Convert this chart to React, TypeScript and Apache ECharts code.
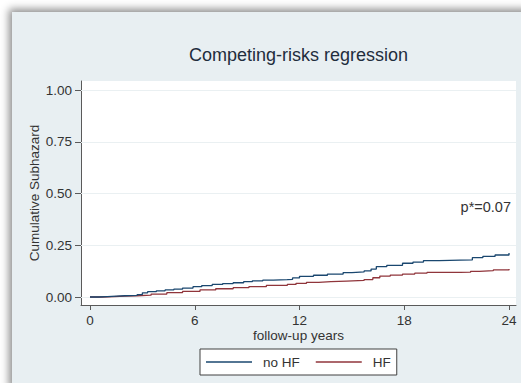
import React, { useEffect, useRef } from "react";
import * as echarts from "echarts";

const titleText = "Competing-risks regression";
const yAxisName = "Cumulative Subhazard";
const xAxisName = "follow-up years";
const pText = "p*=0.07";
const xTicks = [0, 6, 12, 18, 24];
const yTicks = [0, 0.25, 0.5, 0.75, 1];
const seriesNames = ["no HF", "HF"];

const noHFTimes = [0, 0.5, 1, 1.5, 2, 2.7, 3.0, 3.3, 3.8, 4.3, 4.8, 5.3, 5.9, 6.4, 7.0, 7.6, 8.2, 8.8, 9.3, 9.9, 10.5, 11.3, 11.6, 12.0, 12.8, 13.6, 14.5, 15.0, 15.7, 16.1, 16.4, 17.0, 17.9, 18.5, 19.1, 20.0, 21.2, 21.9, 22.5, 23.2, 24];
const noHFValues = [0, 0.002, 0.004, 0.006, 0.008, 0.012, 0.02, 0.026, 0.03, 0.034, 0.038, 0.043, 0.05, 0.055, 0.061, 0.065, 0.069, 0.074, 0.078, 0.082, 0.084, 0.085, 0.092, 0.1, 0.105, 0.111, 0.118, 0.121, 0.126, 0.135, 0.147, 0.153, 0.163, 0.169, 0.176, 0.178, 0.179, 0.19, 0.196, 0.203, 0.213];

const hfTimes = [0, 0.7, 1.4, 2.0, 2.7, 3.5, 4.4, 5.3, 6.3, 7.2, 8.2, 9.1, 10.1, 11.3, 11.8, 12.4, 13.1, 13.8, 14.7, 15.7, 16.2, 16.6, 17.2, 17.9, 18.6, 19.3, 20.2, 21.2, 21.8, 22.3, 23.1, 24];
const hfValues = [0, 0.002, 0.004, 0.006, 0.009, 0.014, 0.021, 0.027, 0.034, 0.04, 0.045, 0.05, 0.056, 0.061, 0.066, 0.071, 0.074, 0.077, 0.08, 0.084, 0.093, 0.101, 0.106, 0.111, 0.115, 0.119, 0.119, 0.12, 0.124, 0.127, 0.131, 0.135];

const FONT = "'Liberation Sans', Arial, sans-serif";

export default function App() {
  const ref = useRef<HTMLDivElement>(null);
  useEffect(() => {
    if (!ref.current) return;
    const chart = echarts.init(ref.current, null, { renderer: "svg" });
    const zip = (t: number[], v: number[]) => t.map((x, i) => [x, v[i]]);
    chart.setOption({
      animation: false,
      backgroundColor: "transparent",
      textStyle: { fontFamily: FONT },
      grid: { left: 81, top: 81, width: 435, height: 224, show: true, backgroundColor: "#ffffff", borderWidth: 0 },
      xAxis: {
        type: "value",
        min: -0.5155,
        max: 24.4,
        name: xAxisName,
        nameLocation: "middle",
        nameGap: 23,
        nameMoveOverlap: false,
        nameTextStyle: { fontSize: 13.5, color: "#333", fontFamily: FONT },
        axisLine: { show: true, onZero: false, lineStyle: { color: "#5a5a5a", width: 1 } },
        axisTick: { show: true, length: 5, customValues: xTicks, lineStyle: { color: "#5a5a5a" } },
        axisLabel: { customValues: xTicks, margin: 8, fontSize: 13.5, color: "#333", fontFamily: FONT },
        splitLine: { show: false },
      },
      yAxis: {
        type: "value",
        min: -0.0386,
        max: 1.0435,
        name: yAxisName,
        nameLocation: "middle",
        nameGap: 40,
        nameMoveOverlap: false,
        nameTextStyle: { fontSize: 13.5, color: "#333", fontFamily: FONT },
        axisLine: { show: true, onZero: false, lineStyle: { color: "#5a5a5a", width: 1 } },
        axisTick: { show: true, length: 6, customValues: yTicks, lineStyle: { color: "#5a5a5a" } },
        axisLabel: {
          customValues: yTicks,
          margin: 9,
          fontSize: 13.5,
          color: "#333",
          fontFamily: FONT,
          formatter: (v: number) => v.toFixed(2),
        },
        splitLine: { show: false },
      },
      legend: {
        data: seriesNames,
        left: 200,
        top: 349,
        orient: "horizontal",
        icon: "rect",
        itemWidth: 46,
        itemHeight: 1.5,
        itemGap: 16,
        padding: [6, 6, 6, 6],
        borderColor: "#404040",
        borderWidth: 1,
        borderRadius: 0,
        backgroundColor: "#ffffff",
        textStyle: { fontSize: 13.5, lineHeight: 14, color: "#333", fontFamily: FONT, padding: [0, 0, 0, 6] },
      },
      graphic: [
        {
          type: "text",
          x: 298.5,
          y: 55,
          style: { text: titleText, align: "center", verticalAlign: "middle", fontSize: 18, fill: "#1f2d3d", fontFamily: FONT },
        },
        {
          type: "text",
          x: 511,
          y: 207,
          style: { text: pText, align: "right", verticalAlign: "middle", fontSize: 14.5, fill: "#333", fontFamily: FONT },
        },
      ],
      series: [
        {
          name: seriesNames[0],
          type: "line",
          step: "end",
          symbol: "none",
          data: zip(noHFTimes, noHFValues),
          lineStyle: { color: "#1a476f", width: 1.3 },
          itemStyle: { color: "#1a476f" },
          z: 3,
          markLine: {
            silent: true,
            symbol: "none",
            label: { show: false },
            lineStyle: { color: "#eaf0f2", width: 1, type: "solid" },
            data: yTicks.map((v) => ({ yAxis: v })),
            z: 1,
          },
        },
        {
          name: seriesNames[1],
          type: "line",
          step: "end",
          symbol: "none",
          data: zip(hfTimes, hfValues),
          lineStyle: { color: "#90353b", width: 1.3 },
          itemStyle: { color: "#90353b" },
          z: 2,
        },
      ],
    });
    return () => chart.dispose();
  }, []);

  return (
    <div style={{ position: "fixed", left: 0, top: 0, width: 521, height: 383, background: "#ffffff", overflow: "hidden" }}>
      <div
        style={{
          position: "absolute",
          left: 12,
          top: 12,
          width: 520,
          height: 380,
          background: "#e8eff2",
          boxShadow: "-3px -3px 8px rgba(0,0,0,0.45)",
        }}
      />
      <div ref={ref} style={{ position: "absolute", left: 0, top: 0, width: 521, height: 383 }} />
    </div>
  );
}
